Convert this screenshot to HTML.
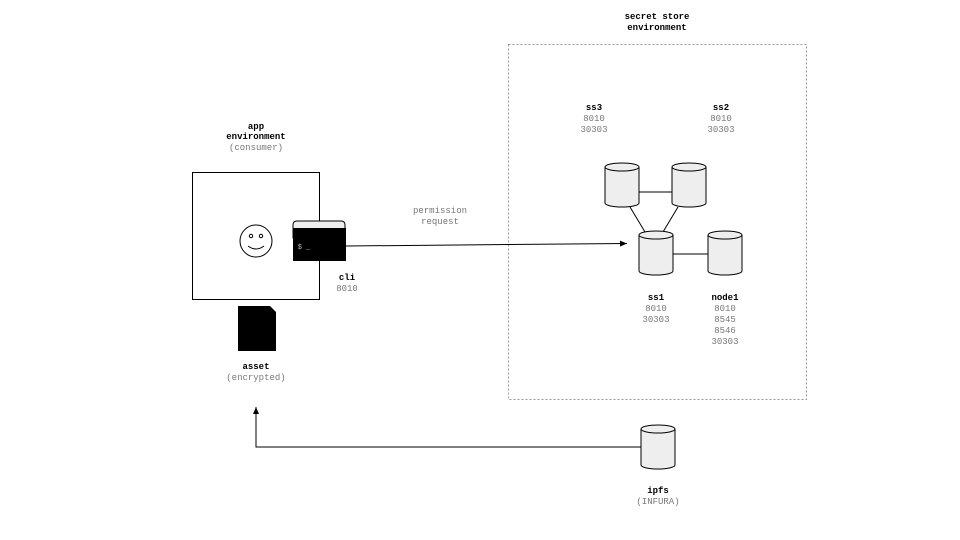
<!DOCTYPE html>
<html><head><style>
html,body{margin:0;padding:0;background:#fff}
svg{display:block}
text{font-family:"Liberation Mono",monospace;font-size:9px;text-anchor:middle}
.b{font-weight:bold;fill:#000}
.g{fill:#777}
</style></head><body>
<svg width="960" height="540" viewBox="0 0 960 540" xmlns="http://www.w3.org/2000/svg">
<defs>
<g id="cyl">
<path d="M0,4 L0,40 A17,4 0 0 0 34,40 L34,4" fill="#eee" stroke="#000" stroke-width="1"/>
<ellipse cx="17" cy="4" rx="17" ry="4" fill="#eee" stroke="#000"/>
</g>
<marker id="ar" markerWidth="8" markerHeight="6" refX="7" refY="3" orient="auto" markerUnits="userSpaceOnUse">
<path d="M0,0 L7,3 L0,6 z" fill="#000"/>
</marker>
</defs>

<!-- secret store env -->
<rect x="508.5" y="44.5" width="298" height="355" fill="none" stroke="#999" stroke-dasharray="2,2"/>
<text x="657" y="19" class="b">secret store</text>
<text x="657" y="30" class="b">environment</text>

<!-- app env -->
<text x="256" y="129" class="b">app</text>
<text x="256" y="139" class="b">environment</text>
<text x="256" y="150" class="g">(consumer)</text>
<rect x="192.5" y="172.5" width="127" height="127" fill="#fff" stroke="#000"/>
<!-- smiley -->
<circle cx="256" cy="241" r="16" fill="#fff" stroke="#000"/>
<circle cx="251" cy="236" r="1.7" fill="none" stroke="#000"/>
<circle cx="261" cy="236" r="1.7" fill="none" stroke="#000"/>
<path d="M248,246 Q256,252 264,246" fill="none" stroke="#000"/>
<!-- cli -->
<path d="M293,238 L293,225 Q293,221 297,221 L341,221 Q345,221 345,225 L345,238 Z" fill="#eee" stroke="#000"/>
<rect x="293" y="228" width="53" height="33" fill="#000"/>
<text x="304" y="249" style="fill:#bbb;font-size:7px">$ _</text>
<text x="347" y="280" class="b">cli</text>
<text x="347" y="291" class="g">8010</text>

<!-- asset -->
<path d="M238,306 L270,306 L276,312 L276,351 L238,351 Z" fill="#000"/>
<text x="256" y="369" class="b">asset</text>
<text x="256" y="380" class="g">(encrypted)</text>

<!-- arrow to ss1 -->
<line x1="346" y1="246" x2="627" y2="243.5" stroke="#000" marker-end="url(#ar)"/>
<text x="440" y="213" class="g">permission</text>
<text x="440" y="224" class="g">request</text>

<!-- connections -->
<line x1="639" y1="192" x2="672" y2="192" stroke="#000"/>
<line x1="630" y1="207" x2="645" y2="232" stroke="#000"/>
<line x1="678" y1="207" x2="663" y2="232" stroke="#000"/>
<line x1="673" y1="254" x2="708" y2="254" stroke="#000"/>

<use href="#cyl" x="605" y="163"/>
<use href="#cyl" x="672" y="163"/>
<use href="#cyl" x="639" y="231"/>
<use href="#cyl" x="708" y="231"/>

<text x="594" y="110" class="b">ss3</text>
<text x="594" y="121" class="g">8010</text>
<text x="594" y="132" class="g">30303</text>
<text x="721" y="110" class="b">ss2</text>
<text x="721" y="121" class="g">8010</text>
<text x="721" y="132" class="g">30303</text>
<text x="656" y="300" class="b">ss1</text>
<text x="656" y="311" class="g">8010</text>
<text x="656" y="322" class="g">30303</text>
<text x="725" y="300" class="b">node1</text>
<text x="725" y="311" class="g">8010</text>
<text x="725" y="322" class="g">8545</text>
<text x="725" y="333" class="g">8546</text>
<text x="725" y="344" class="g">30303</text>

<!-- ipfs -->
<use href="#cyl" x="641" y="425"/>
<text x="658" y="493" class="b">ipfs</text>
<text x="658" y="504" class="g">(INFURA)</text>
<polyline points="641,447 256,447 256,407" fill="none" stroke="#000" marker-end="url(#ar)"/>
</svg>
</body></html>
